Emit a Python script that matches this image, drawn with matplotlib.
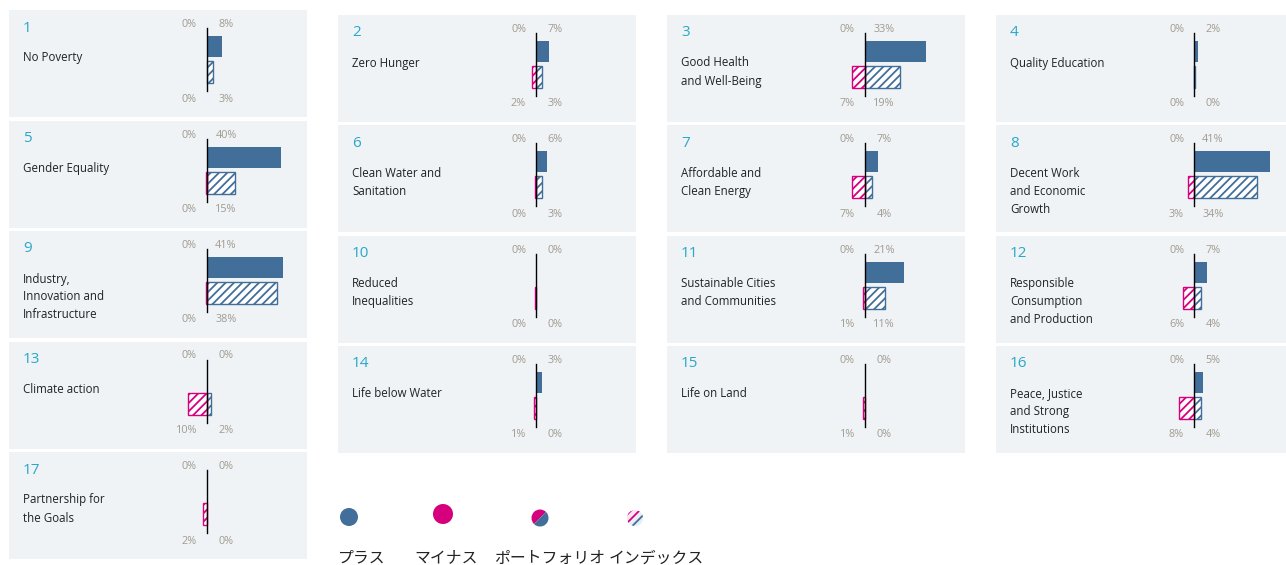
import matplotlib
matplotlib.use('Agg')
import matplotlib.pyplot as plt
from matplotlib.patches import Circle, Wedge

plt.rcParams['font.family'] = ['Open Sans', 'DejaVu Sans']
plt.rcParams['hatch.linewidth'] = 1.3

# ---------------- data ----------------
goal_numbers = list(range(1, 18))
goal_names = [
    "No Poverty", "Zero Hunger", "Good Health\nand Well-Being", "Quality Education",
    "Gender Equality", "Clean Water and\nSanitation", "Affordable and\nClean Energy",
    "Decent Work\nand Economic\nGrowth", "Industry,\nInnovation and\nInfrastructure",
    "Reduced\nInequalities", "Sustainable Cities\nand Communities",
    "Responsible\nConsumption\nand Production", "Climate action", "Life below Water",
    "Life on Land", "Peace, Justice\nand Strong\nInstitutions", "Partnership for\nthe Goals",
]
portfolio_plus = [8, 7, 33, 2, 40, 6, 7, 41, 41, 0, 21, 7, 0, 3, 0, 5, 0]
portfolio_minus = [0, 0, 0, 0, 0, 0, 0, 0, 0, 0, 0, 0, 0, 0, 0, 0, 0]
index_plus = [3, 3, 19, 0.3, 15, 3, 4, 34, 38, 0, 11, 4, 2, 0, 0, 4, 0]
index_minus = [0, 2, 7, 0, 0.3, 0.3, 7, 3, 0.3, 0.3, 1, 6, 10, 1, 1, 8, 2]

legend_labels = ["プラス", "マイナス", "ポートフォリオ", "インデックス"]

# ---------------- style ----------------
BLUE = '#416f99'
MAGENTA = '#d6007f'
BG = '#eff3f6'
NUM_C = '#2aa8c8'
LAB_C = '#a09b90'
TXT_C = '#222222'

W, H = 1286, 565
fig = plt.figure(figsize=(W / 100, H / 100), dpi=100)
fig.patch.set_facecolor('white')

PW, PH = 298, 107          # panel size px
ZERO = 198                 # zero line offset px from panel left
SCALE = 1.85               # px per percent
col_x = [9, 338, 667, 996]

def panel_rect(n):
    col = (n - 1) % 4
    row = (n - 1) // 4
    if col == 0:
        y0 = 10 + 110.5 * row
    else:
        y0 = 15 + 110.3 * row
    return col_x[col], y0

xmin = -ZERO / SCALE
xmax = (PW - ZERO) / SCALE

def px(p):
    return xmin + p / SCALE

for i, n in enumerate(goal_numbers):
    x0, y0 = panel_rect(n)
    ax = fig.add_axes([x0 / W, 1 - (y0 + PH) / H, PW / W, PH / H])
    ax.set_xlim(xmin, xmax)
    ax.set_ylim(PH, 0)
    ax.set_facecolor(BG)
    for s in ax.spines.values():
        s.set_visible(False)
    ax.set_xticks([])
    ax.set_yticks([])

    # portfolio bars (solid)
    if portfolio_plus[i] > 0:
        ax.barh(36.5, portfolio_plus[i], height=21, left=0, color=BLUE, zorder=2)
    if portfolio_minus[i] > 0:
        ax.barh(36.5, -portfolio_minus[i], height=21, left=0, color=MAGENTA, zorder=2)
    # index bars (hatched)
    if index_plus[i] > 0:
        ax.barh(62, index_plus[i], height=22, left=0, facecolor='white',
                edgecolor=BLUE, hatch='////', linewidth=1.0, zorder=2)
    if index_minus[i] > 0:
        ax.barh(62, -index_minus[i], height=22, left=0, facecolor='white',
                edgecolor=MAGENTA, hatch='////', linewidth=1.0, zorder=2)

    ax.plot([0, 0], [18, 81], color='black', lw=1.0, zorder=3)

    # labels
    lab_kw = dict(va='center', fontsize=7.8, color=LAB_C)
    ax.text(px(ZERO - 10), 14.5, f"{round(portfolio_minus[i])}%", ha='right', **lab_kw)
    ax.text(px(ZERO + 19), 14.5, f"{round(portfolio_plus[i])}%", ha='center', **lab_kw)
    ax.text(px(ZERO - 10), 89, f"{round(index_minus[i])}%", ha='right', **lab_kw)
    ax.text(px(ZERO + 19), 89, f"{round(index_plus[i])}%", ha='center', **lab_kw)

    ax.text(px(14), 18, str(n), ha='left', va='center', fontsize=11, color=NUM_C)
    for k, line in enumerate(goal_names[i].split('\n')):
        ax.text(px(14), 48 + 18 * k, line, ha='left', va='center', fontsize=8.3,
                color=TXT_C)

# ---------------- legend ----------------
lg = fig.add_axes([0, 0, 1, 1])
lg.set_xlim(0, W)
lg.set_ylim(H, 0)
lg.axis('off')
lg.patch.set_alpha(0)

lg.add_patch(Circle((349, 517), 9, facecolor=BLUE, edgecolor='none'))
lg.add_patch(Circle((443, 514), 10, facecolor=MAGENTA, edgecolor='none'))
lg.add_patch(Wedge((540, 518), 8.5, 135, 315, facecolor=MAGENTA, edgecolor='none'))
lg.add_patch(Wedge((540, 518), 8.5, 315, 495, facecolor=BLUE, edgecolor='none'))
lg.add_patch(Wedge((635, 518), 8, 135, 315, facecolor='#f6e6ef', edgecolor=MAGENTA,
                   hatch='////', linewidth=0))
lg.add_patch(Wedge((635, 518), 8, 315, 495, facecolor='#e6edf4', edgecolor=BLUE,
                   hatch='////', linewidth=0))

leg_x = [338, 414, 494, 609]
for lx, lab in zip(leg_x, legend_labels):
    lg.text(lx, 558, lab, ha='left', va='center', fontsize=11.4, color=TXT_C,
            family=['Noto Sans CJK JP', 'DejaVu Sans'])

fig.savefig('out.png', dpi=100, facecolor='white')
